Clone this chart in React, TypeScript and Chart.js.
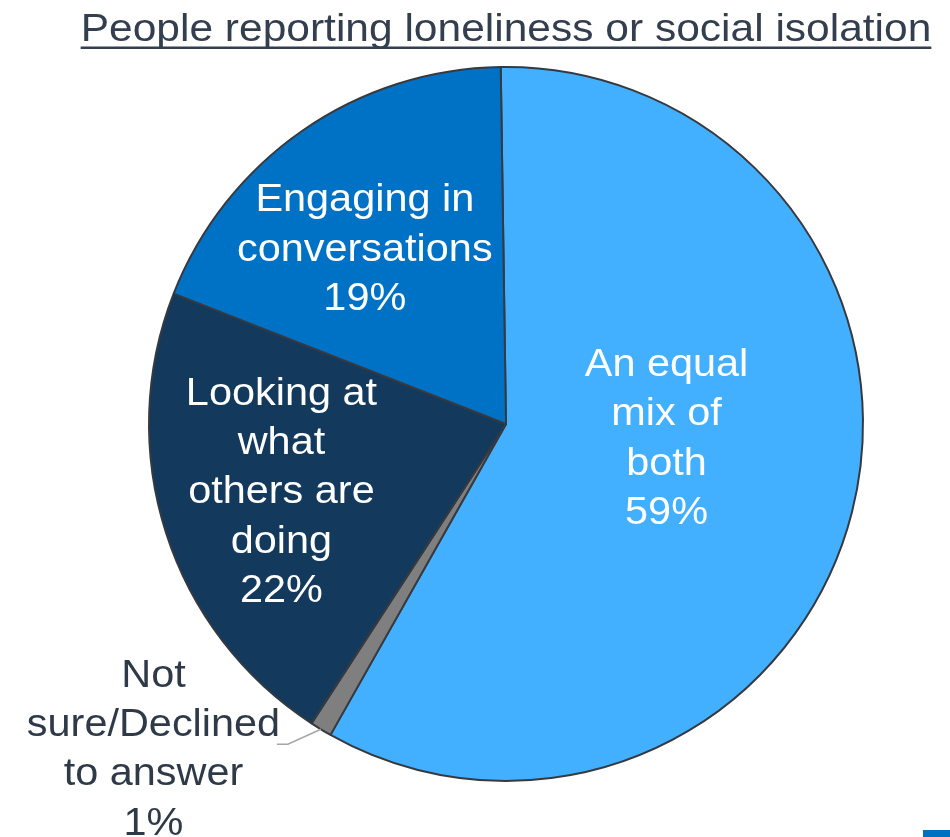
import React, { useEffect, useRef } from "react";
import { Chart, registerables } from "chart.js";

Chart.register(...registerables);

const chartTitle = "People reporting loneliness or social isolation";
const categories = [
  "An equal mix of both",
  "Not sure/Declined to answer",
  "Looking at what others are doing",
  "Engaging in conversations",
];
const values = [59, 1, 22, 19];
const labelLines = [
  ["An equal", "mix of", "both"],
  ["Not", "sure/Declined", "to answer"],
  ["Looking at", "what", "others are", "doing"],
  ["Engaging in", "conversations"],
];
const sliceColors = ["#42B0FF", "#7F7F7F", "#13395C", "#0072C6"];
const labelColors = ["#FFFFFF", "#2F3A48", "#FFFFFF", "#FFFFFF"];

const FONT = '"Liberation Sans", Arial, Helvetica, sans-serif';
const STRETCH = 1.09;

// label placement relative to each slice (fraction of radius along mid-angle + nudge)
const labelPlacement = [
  { frac: 0.464, dx: 0, dy: -28.5, outside: false },
  { frac: 0, dx: -352.5, dy: 323, outside: true },
  { frac: 0.655, dx: -1.9, dy: -5.7, outside: false },
  { frac: 0.632, dx: -12.7, dy: 8.6, outside: false },
];

function drawStretchedText(ctx: CanvasRenderingContext2D, text: string, x: number, y: number) {
  ctx.save();
  ctx.translate(x, y);
  ctx.scale(STRETCH, 1);
  ctx.fillText(text, 0, 0);
  ctx.restore();
}

const titlePlugin = {
  id: "underlinedTitle",
  afterDraw(chart: any) {
    const ctx: CanvasRenderingContext2D = chart.ctx;
    const area = chart.chartArea;
    const cx = (area.left + area.right) / 2;
    ctx.save();
    ctx.font = `39px ${FONT}`;
    ctx.fillStyle = "#333E4E";
    ctx.textAlign = "center";
    ctx.textBaseline = "alphabetic";
    const baseline = 40.7;
    drawStretchedText(ctx, chartTitle, cx, baseline);
    const w = ctx.measureText(chartTitle).width * STRETCH;
    ctx.fillStyle = "#333E4E";
    ctx.fillRect(cx - w / 2, 46.5, w, 2.5);
    ctx.restore();
  },
};

const labelPlugin = {
  id: "sliceLabels",
  afterDatasetsDraw(chart: any) {
    const ctx: CanvasRenderingContext2D = chart.ctx;
    const meta = chart.getDatasetMeta(0);
    const fontSize = 38;
    const lh = 49.3;
    const cap = fontSize * 0.716;
    meta.data.forEach((arc: any, i: number) => {
      const p = arc.getProps(["x", "y", "startAngle", "endAngle", "outerRadius"], true);
      const mid = (p.startAngle + p.endAngle) / 2;
      const place = labelPlacement[i];
      const lines = [...labelLines[i], `${values[i]}%`];
      let tx: number, ty: number;
      if (place.outside) {
        const ex = p.x + Math.cos(mid) * p.outerRadius;
        const ey = p.y + Math.sin(mid) * p.outerRadius;
        tx = p.x + place.dx;
        ty = p.y + place.dy;
        ctx.save();
        ctx.strokeStyle = "#A6A6A6";
        ctx.lineWidth = 1.5;
        ctx.beginPath();
        ctx.moveTo(ex, ey);
        ctx.lineTo(ex - 33, ey + 15);
        ctx.lineTo(ex - 44, ey + 15);
        ctx.stroke();
        ctx.restore();
      } else {
        tx = p.x + Math.cos(mid) * p.outerRadius * place.frac + place.dx;
        ty = p.y + Math.sin(mid) * p.outerRadius * place.frac + place.dy;
      }
      ctx.save();
      ctx.font = `${fontSize}px ${FONT}`;
      ctx.fillStyle = labelColors[i];
      ctx.textAlign = "center";
      ctx.textBaseline = "alphabetic";
      const first = ty - ((lines.length - 1) * lh) / 2 + cap / 2;
      lines.forEach((line, j) => {
        drawStretchedText(ctx, line, tx, first + j * lh);
      });
      ctx.restore();
    });
  },
};

export default function App() {
  const canvasRef = useRef<HTMLCanvasElement | null>(null);

  useEffect(() => {
    document.body.style.margin = "0";
    const canvas = canvasRef.current;
    if (!canvas) return;
    const chart = new Chart(canvas, {
      type: "pie",
      data: {
        labels: categories,
        datasets: [
          {
            data: values,
            backgroundColor: sliceColors,
            borderColor: "#363A40",
            borderWidth: 2,
          },
        ],
      },
      options: {
        responsive: false,
        animation: false,
        devicePixelRatio: 1,
        rotation: -0.85,
        layout: { padding: { left: 148, right: 86, top: 66, bottom: 55 } },
        plugins: {
          legend: { display: false },
          tooltip: { enabled: false },
          title: { display: false },
        },
      },
      plugins: [titlePlugin, labelPlugin],
    });
    return () => chart.destroy();
  }, []);

  return (
    <div style={{ position: "relative", width: 950, height: 837, background: "#FFFFFF", overflow: "hidden" }}>
      <canvas ref={canvasRef} width={950} height={837} style={{ display: "block" }} />
      <div
        style={{
          position: "absolute",
          left: 923,
          top: 830,
          width: 27,
          height: 7,
          background: "#0070C0",
        }}
      />
    </div>
  );
}
